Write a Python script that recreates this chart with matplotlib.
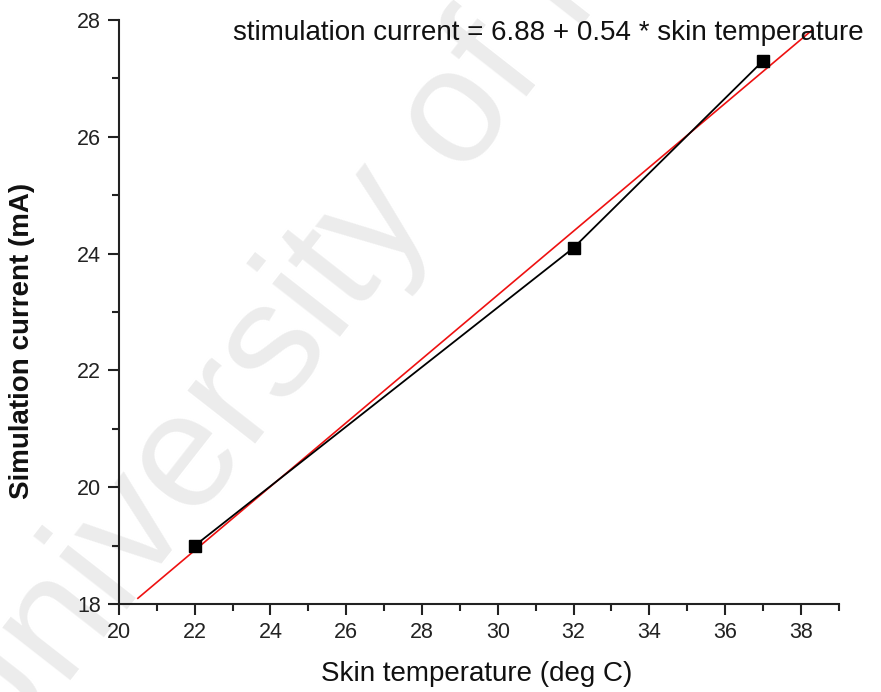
import matplotlib
matplotlib.use("Agg")
import matplotlib.pyplot as plt
from matplotlib.ticker import MultipleLocator

plt.rcParams['font.family'] = ['Liberation Sans', 'DejaVu Sans']

# ── Data ─────────────────────────────────────────────────────────────────────
skin_temp = [22, 32, 37]
stim_current = [19.0, 24.1, 27.3]

# fitted line, end points as drawn
fit_x = [20.5, 38.3]
fit_y = [18.1, 27.83]

equation = "stimulation current = 6.88 + 0.54 * skin temperature"

# ── Figure ───────────────────────────────────────────────────────────────────
fig = plt.figure(figsize=(8.81, 6.92), dpi=100)
ax = fig.add_axes([0.135, 0.127, 0.817, 0.844])
ax.set_zorder(1)
ax.set_facecolor('none')

# faint watermark behind everything
fig.text(-0.01, -0.13, "University of Malaya", fontsize=118, color='#ececec',
         rotation=52, rotation_mode='anchor', ha='left', va='baseline', zorder=-1)

ax.plot(fit_x, fit_y, color='#ee1111', linewidth=1.2, zorder=2)
ax.plot(skin_temp, stim_current, color='black', linewidth=1.3,
        marker='s', markersize=8, zorder=3)

ax.text(23.0, 27.78, equation, fontsize=20, color='#111111',
        ha='left', va='center', clip_on=False)

ax.set_xlim(20, 39)
ax.set_ylim(18, 28)
ax.xaxis.set_major_locator(MultipleLocator(2))
ax.xaxis.set_minor_locator(MultipleLocator(1))
ax.yaxis.set_major_locator(MultipleLocator(2))
ax.yaxis.set_minor_locator(MultipleLocator(1))

for side in ['top', 'right']:
    ax.spines[side].set_visible(False)
for side in ['left', 'bottom']:
    ax.spines[side].set_linewidth(1.5)
    ax.spines[side].set_color('#222222')

ax.tick_params(which='major', direction='out', length=8, width=1.5,
               labelsize=15.5, colors='#222222', pad=5)
ax.tick_params(which='minor', direction='out', length=5, width=1.5,
               colors='#222222')

ax.set_xlabel("Skin temperature (deg C)", fontsize=20, color='#111111')
ax.xaxis.set_label_coords(0.497, -0.097)
ax.set_ylabel("Simulation current (mA)", fontsize=20, fontweight='bold',
              color='#111111')
ax.yaxis.set_label_coords(-0.117, 0.45)

fig.savefig("out.png", dpi=100)
